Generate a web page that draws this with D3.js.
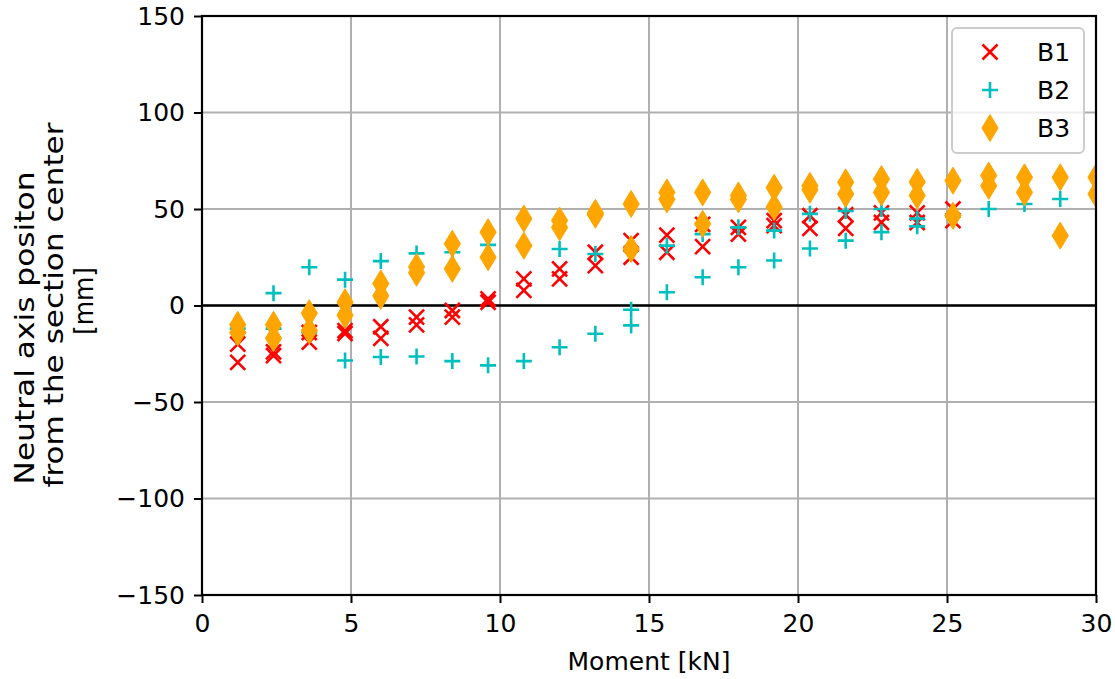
<!DOCTYPE html>
<html>
<head>
<meta charset="utf-8">
<style>
body { margin: 0; background: #fff; }
svg text { font-family: "DejaVu Sans", sans-serif; fill: #000; }
</style>
</head>
<body>
<div id="target"></div>
<script src="https://cdn.jsdelivr.net/npm/d3@7.8.3/dist/d3.min.js"></script>
<script>
// neutral axis position vs. moment, three beams, two readings per load step

const moments = [1.2, 2.4, 3.6, 4.8, 6.0, 7.2, 8.4, 9.6, 10.8, 12.0, 13.2, 14.4, 15.6,
                 16.8, 18.0, 19.2, 20.4, 21.6, 22.8, 24.0, 25.2, 26.4, 27.6, 28.8, 30.0];

const b1First  = [-20, -24, -14, -13, -11, -6, -2.6, 3.4, 13.8, 19, 27.6, 33.6, 36.5,
                  42, 40.5, 44, 46.5, 47, 48, 48, 50, null, null, null, null];
const b1Second = [-29.5, -26, -19, -14.5, -17, -10, -6, 1.7, 7.8, 13.8, 20.7, 25, 27.6,
                  30.5, 37, 41.4, 40, 40, 43, 43, 44, null, null, null, null];

const b2First  = [-12, 6.4, 19.8, 13.4, 23, 27, 27.6, 31.4, 31, 29.3, 26.7, -2.2, 31,
                  37, 40.5, 38.8, 47.5, 49, 50, 45, 47, 50, 52.6, 55.2, null];
const b2Second = [-14, -12, -14, -28.5, -26.7, -26.4, -28.8, -31, -28.8, -21.6, -14.6, -10.3, 6.9,
                  14.6, 19.8, 23.3, 29.5, 33.6, 38, 41, 46, null, null, null, null];

const b3First  = [-10, -10, -4, 1.7, 11.4, 20, 32, 38, 45, 44, 48, 52.6, 58.6,
                  58.6, 57, 61, 62, 63.8, 65.5, 64, 64.7, 67.3, 66.4, 66.4, 66.4];
const b3Second = [-14, -17, -13, -5, 5, 17, 19, 25, 31, 40.5, 47, 29.3, 55,
                  42.3, 55, 51, 60, 57.8, 58.6, 57, 46.5, 62, 58.6, 36.2, 57.8];

const xTicks = [0, 5, 10, 15, 20, 25, 30];
const yTicks = [-150, -100, -50, 0, 50, 100, 150];
const seriesNames = ["B1", "B2", "B3"];

const width = 1115;
const height = 679;
const plotL = 202, plotR = 1096, plotT = 16, plotB = 595;

const svg = d3.select("#target")
    .append("svg")
    .attr("width", width)
    .attr("height", height);

const x = d3.scaleLinear().domain([0, 30]).range([plotL, plotR]);
const y = d3.scaleLinear().domain([-150, 150]).range([plotB, plotT]);

// stroked x, stroked +, thin diamond (matplotlib look)
const xMark = { draw(ctx, s) { ctx.moveTo(-s, -s); ctx.lineTo(s, s); ctx.moveTo(-s, s); ctx.lineTo(s, -s); } };
const plusMark = { draw(ctx, s) { ctx.moveTo(-s, 0); ctx.lineTo(s, 0); ctx.moveTo(0, -s); ctx.lineTo(0, s); } };
const diamondMark = { draw(ctx, s) { ctx.moveTo(0, -s); ctx.lineTo(s * 0.6, 0); ctx.lineTo(0, s); ctx.lineTo(-s * 0.6, 0); ctx.closePath(); } };

const styles = [
    { type: xMark, size: 7.5, fill: "none", stroke: "#ff0000", sw: 2.6 },
    { type: plusMark, size: 8, fill: "none", stroke: "#00bfbf", sw: 2.6 },
    { type: diamondMark, size: 13.5, fill: "#ffa500", stroke: "#ffa500", sw: 1 }
];

// grid
svg.append("g").selectAll("line").data(xTicks.slice(1, -1)).join("line")
    .attr("x1", d => x(d)).attr("x2", d => x(d))
    .attr("y1", plotT).attr("y2", plotB)
    .attr("stroke", "#b0b0b0").attr("stroke-width", 2);
svg.append("g").selectAll("line").data(yTicks.slice(1, -1)).join("line")
    .attr("x1", plotL).attr("x2", plotR)
    .attr("y1", d => y(d)).attr("y2", d => y(d))
    .attr("stroke", "#b0b0b0").attr("stroke-width", 2);

// zero line
svg.append("line")
    .attr("x1", plotL).attr("x2", plotR)
    .attr("y1", y(0)).attr("y2", y(0))
    .attr("stroke", "#000").attr("stroke-width", 2.6);

svg.append("clipPath").attr("id", "plotclip")
    .append("rect").attr("x", plotL).attr("y", plotT)
    .attr("width", plotR - plotL).attr("height", plotB - plotT);

const allSeries = [[b1First, b1Second], [b2First, b2Second], [b3First, b3Second]];

allSeries.forEach((runs, si) => {
    const st = styles[si];
    const pts = [];
    runs.forEach(run => run.forEach((v, i) => { if (v !== null) pts.push([moments[i], v]); }));
    svg.append("g").attr("clip-path", "url(#plotclip)")
        .selectAll("path").data(pts).join("path")
        .attr("transform", d => `translate(${x(d[0])},${y(d[1])})`)
        .attr("d", d3.symbol().type(st.type).size(st.size))
        .attr("fill", st.fill)
        .attr("stroke", st.stroke)
        .attr("stroke-width", st.sw);
});

// axes
const xAxis = svg.append("g")
    .attr("transform", `translate(0,${plotB})`)
    .call(d3.axisBottom(x).tickValues(xTicks).tickSize(8).tickPadding(11).tickFormat(d3.format("d")));
const yAxis = svg.append("g")
    .attr("transform", `translate(${plotL},0)`)
    .call(d3.axisLeft(y).tickValues(yTicks).tickSize(8).tickPadding(9).tickFormat(d => d < 0 ? "\u2212" + Math.abs(d) : d));
[xAxis, yAxis].forEach(a => {
    a.select(".domain").remove();
    a.selectAll(".tick line").attr("stroke", "#000").attr("stroke-width", 2);
    a.selectAll(".tick text").attr("font-size", 25).attr("font-family", "DejaVu Sans").attr("fill", "#000");
});

// frame
svg.append("rect")
    .attr("x", plotL).attr("y", plotT)
    .attr("width", plotR - plotL).attr("height", plotB - plotT)
    .attr("fill", "none").attr("stroke", "#000").attr("stroke-width", 2.2);

// axis labels
svg.append("text")
    .attr("x", (plotL + plotR) / 2).attr("y", 670)
    .attr("text-anchor", "middle").attr("font-size", 25)
    .text("Moment [kN]");

const yLabel = [
    { t: "Neutral axis positon", cx: 34, cy: 328, len: 313 },
    { t: "from the section center", cx: 63, cy: 305, len: 365 },
    { t: "[mm]", cx: 93, cy: 301, len: 68 }
];
svg.append("g").selectAll("text").data(yLabel).join("text")
    .attr("transform", d => `translate(${d.cx},${d.cy}) rotate(-90)`)
    .attr("text-anchor", "middle")
    .attr("font-size", 26)
    .attr("textLength", d => d.len)
    .attr("lengthAdjust", "spacingAndGlyphs")
    .text(d => d.t);

// legend
const legend = svg.append("g");
legend.append("rect")
    .attr("x", 952).attr("y", 28).attr("width", 132).attr("height", 125)
    .attr("rx", 5).attr("fill", "#fff").attr("fill-opacity", 0.8)
    .attr("stroke", "#cccccc").attr("stroke-width", 2);
seriesNames.forEach((name, i) => {
    const st = styles[i];
    const ly = 52 + i * 38;
    legend.append("path")
        .attr("transform", `translate(990,${ly})`)
        .attr("d", d3.symbol().type(st.type).size(st.size))
        .attr("fill", st.fill).attr("stroke", st.stroke).attr("stroke-width", st.sw);
    legend.append("text")
        .attr("x", 1037).attr("y", ly + 9)
        .attr("font-size", 25)
        .text(name);
});
</script>
</body>
</html>
